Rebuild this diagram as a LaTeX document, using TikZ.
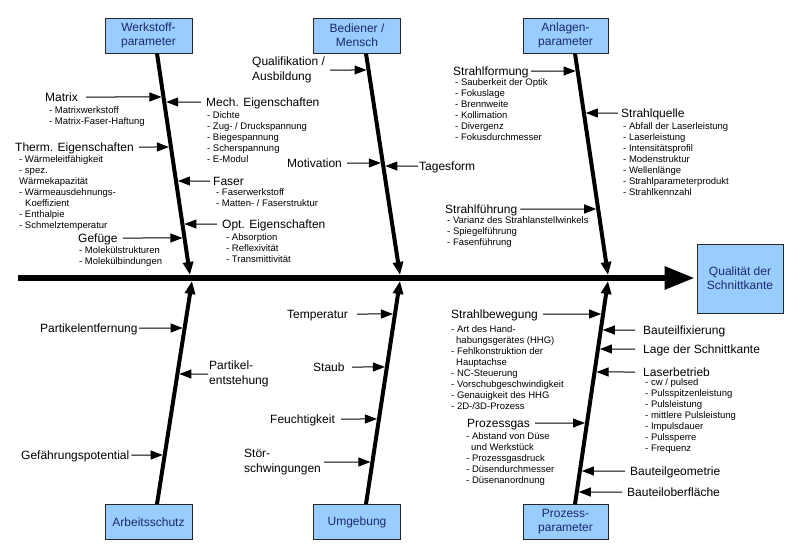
\documentclass[tikz,border=0pt]{standalone}
\usepackage{fontspec}
\setmainfont{Liberation Sans}
\usetikzlibrary{arrows.meta}
\definecolor{boxblue}{HTML}{99CCFF}
\definecolor{boxtext}{HTML}{1E2A66}
\begin{document}
\begin{tikzpicture}[x=1pt,y=-1pt,
  catbox/.style={draw=black!85, line width=0.9pt, fill=boxblue, text=boxtext, minimum width=87pt, minimum height=35pt, align=center, inner sep=1pt, font=\fontsize{12}{14}\selectfont},
  lab/.style={anchor=west, inner sep=0pt, text height=8.6pt, text depth=0pt, font=\fontsize{12}{14}\selectfont},
  labtwo/.style={anchor=west, inner sep=0pt, align=left, font=\fontsize{12}{15}\selectfont},
  sublist/.style={anchor=north west, inner sep=0pt, align=left, font=\fontsize{9.5}{11}\selectfont},
  spine/.style={line width=6pt, -{Triangle[length=30pt,width=22pt]}},
  bone/.style={line width=4pt, -{Triangle[length=13pt,width=10pt]}},
  twig/.style={line width=1pt, -{Triangle[length=12pt,width=9pt]}, shorten >=2pt},
]
\useasboundingbox (0,0) rectangle (800,557);

% category boxes
\node[catbox] (W) at (148.5,35.5) {Werkstoff-\\parameter};
\node[catbox] (B) at (357,35.5) {Bediener /\\Mensch};
\node[catbox, minimum width=85pt] (A) at (565.5,35.5) {Anlagen-\\parameter};
\node[catbox] (S) at (148.5,522) {Arbeitsschutz};
\node[catbox] (U) at (357,522) {Umgebung};
\node[catbox, minimum width=85pt] (P) at (565.5,522) {Prozess-\\parameter};
\node[catbox, minimum width=86pt, minimum height=69pt] (Q) at (740,278.5) {Qualität der\\Schnittkante};

% spine
\coordinate (s0) at (18,278);
\draw[spine] (s0) -- ([xshift=-2pt]s0 -| Q.west);

% bones
\coordinate (w1) at ([xshift=8.5pt]W.south);
\coordinate (w2) at (190,275);
\coordinate (b1) at ([xshift=9pt]B.south);
\coordinate (b2) at (400,275);
\coordinate (a1) at ([xshift=9.5pt]A.south);
\coordinate (a2) at (608,275);
\coordinate (s1) at ([xshift=8.5pt]S.north);
\coordinate (s2) at (192,281);
\coordinate (u1) at ([xshift=9pt]U.north);
\coordinate (u2) at (400,281);
\coordinate (p1) at ([xshift=9.5pt]P.north);
\coordinate (p2) at (608,281);
\draw[bone] (w1) -- (w2);
\draw[bone] (b1) -- (b2);
\draw[bone] (a1) -- (a2);
\draw[bone] (s1) -- (s2);
\draw[bone] (u1) -- (u2);
\draw[bone] (p1) -- (p2);

% Werkstoffparameter
\node[lab] (mat) at (45,97) {Matrix};
\node[sublist] (matL) at (49,106.5) {- Matrixwerkstoff\\- Matrix-Faser-Haftung};
\draw[twig] ([xshift=8pt]mat.east) -- (intersection of w1--w2 and mat.east--mat.west);

\node[lab] (mech) at (206,102) {Mech. Eigenschaften};
\node[sublist] (mechL) at (207,111.5) {- Dichte\\- Zug- / Druckspannung\\- Biegespannung\\- Scherspannung\\- E-Modul};
\draw[twig] ([xshift=-5pt]mech.west) -- (intersection of w1--w2 and mech.east--mech.west);

\node[lab] (therm) at (15,147) {Therm. Eigenschaften};
\node[sublist] (thermL) at (19,155.5) {- Wärmeleitfähigkeit\\- spez.\\Wärmekapazität\\- Wärmeausdehnungs-\\\hspace*{6pt}Koeffizient\\- Enthalpie\\- Schmelztemperatur};
\draw[twig] ([xshift=5pt]therm.east) -- (intersection of w1--w2 and therm.east--therm.west);

\node[lab] (faser) at (213,181) {Faser};
\node[sublist] (faserL) at (216,188.5) {- Faserwerkstoff\\- Matten- / Faserstruktur};
\draw[twig] ([xshift=-3pt]faser.west) -- (intersection of w1--w2 and faser.east--faser.west);

\node[lab] (opt) at (222,224) {Opt. Eigenschaften};
\node[sublist] (optL) at (226,233) {- Absorption\\- Reflexivität\\- Transmittivität};
\draw[twig] ([xshift=-5pt]opt.west) -- (intersection of w1--w2 and opt.east--opt.west);

\node[lab] (gef) at (78,238) {Gefüge};
\node[sublist] (gefL) at (79,246.5) {- Molekülstrukturen\\- Molekülbindungen};
\draw[twig] ([xshift=5pt]gef.east) -- (intersection of w1--w2 and gef.east--gef.west);

% Bediener / Mensch
\node[labtwo] (qual) at (252,70) {Qualifikation /\\Ausbildung};
\draw[twig] ([xshift=5pt]qual.east) -- (intersection of b1--b2 and qual.east--qual.west);
\node[lab] (motiv) at (287,163) {Motivation};
\draw[twig] ([xshift=5pt]motiv.east) -- (intersection of b1--b2 and motiv.east--motiv.west);
\node[lab] (tages) at (419,166) {Tagesform};
\draw[twig] ([xshift=-1pt]tages.west) -- (intersection of b1--b2 and tages.east--tages.west);

% Anlagenparameter
\node[lab] (sform) at (453,71) {Strahlformung};
\node[sublist] (sformL) at (455,78.5) {- Sauberkeit der Optik\\- Fokuslage\\- Brennweite\\- Kollimation\\- Divergenz\\- Fokusdurchmesser};
\draw[twig] ([xshift=2pt]sform.east) -- (intersection of a1--a2 and sform.east--sform.west);

\node[lab] (squel) at (621,113) {Strahlquelle};
\node[sublist] (squelL) at (623,122.5) {- Abfall der Laserleistung\\- Laserleistung\\- Intensitätsprofil\\- Modenstruktur\\- Wellenlänge\\- Strahlparameterprodukt\\- Strahlkennzahl};
\draw[twig] ([xshift=-3pt]squel.west) -- (intersection of a1--a2 and squel.east--squel.west);

\node[lab] (sfuehr) at (445,209) {Strahlführung};
\node[sublist] (sfuehrL) at (447,216.5) {- Varianz des Strahlanstellwinkels\\- Spiegelführung\\- Fasenführung};
\draw[twig] ([xshift=3pt]sfuehr.east) -- (intersection of a1--a2 and sfuehr.east--sfuehr.west);

% Arbeitsschutz
\node[lab] (pentf) at (40,328) {Partikelentfernung};
\draw[twig] ([xshift=1pt]pentf.east) -- (intersection of s1--s2 and pentf.east--pentf.west);
\node[labtwo] (pentst) at (209,374) {Partikel-\\entstehung};
\draw[twig] ([xshift=-1pt]pentst.west) -- (intersection of s1--s2 and pentst.east--pentst.west);
\node[lab] (gefahr) at (21,455) {Gefährungspotential};
\draw[twig] ([xshift=2pt]gefahr.east) -- (intersection of s1--s2 and gefahr.east--gefahr.west);

% Umgebung
\node[lab] (temp) at (287,314) {Temperatur};
\draw[twig] ([xshift=9pt]temp.east) -- (intersection of u1--u2 and temp.east--temp.west);
\node[lab] (staub) at (313,367) {Staub};
\draw[twig] ([xshift=7pt]staub.east) -- (intersection of u1--u2 and staub.east--staub.west);
\node[lab] (feucht) at (270,419) {Feuchtigkeit};
\draw[twig] ([xshift=6pt]feucht.east) -- (intersection of u1--u2 and feucht.east--feucht.west);
\node[labtwo] (stoer) at (244,462) {Stör-\\schwingungen};
\draw[twig] ([xshift=3pt]stoer.east) -- (intersection of u1--u2 and stoer.east--stoer.west);

% Prozessparameter
\node[lab] (sbew) at (451,314) {Strahlbewegung};
\node[sublist] (sbewL) at (451,325.5) {- Art des Hand-\\\hspace*{5pt}habungsgerätes (HHG)\\- Fehlkonstruktion der\\\hspace*{5pt}Hauptachse\\- NC-Steuerung\\- Vorschubgeschwindigkeit\\- Genauigkeit des HHG\\- 2D-/3D-Prozess};
\draw[twig] ([xshift=5pt]sbew.east) -- (intersection of p1--p2 and sbew.east--sbew.west);

\node[lab] (pgas) at (467,423) {Prozessgas};
\node[sublist] (pgasL) at (466,432.5) {- Abstand von Düse\\\hspace*{5pt}und Werkstück\\- Prozessgasdruck\\- Düsendurchmesser\\- Düsenanordnung};
\draw[twig] ([xshift=5pt]pgas.east) -- (intersection of p1--p2 and pgas.east--pgas.west);

\node[lab] (bfix) at (643,330) {Bauteilfixierung};
\draw[twig] ([xshift=-8pt]bfix.west) -- (intersection of p1--p2 and bfix.east--bfix.west);
\node[lab] (lage) at (643,349) {Lage der Schnittkante};
\draw[twig] ([xshift=-8pt]lage.west) -- (intersection of p1--p2 and lage.east--lage.west);
\node[lab] (lbetr) at (643,372) {Laserbetrieb};
\node[sublist] (lbetrL) at (645,378.5) {- cw / pulsed\\- Pulsspitzenleistung\\- Pulsleistung\\- mittlere Pulsleistung\\- Impulsdauer\\- Pulssperre\\- Frequenz};
\draw[twig] ([xshift=-8pt]lbetr.west) -- (intersection of p1--p2 and lbetr.east--lbetr.west);
\node[lab] (bgeo) at (630,471) {Bauteilgeometrie};
\draw[twig] ([xshift=-5pt]bgeo.west) -- (intersection of p1--p2 and bgeo.east--bgeo.west);
\node[lab] (bober) at (627,492) {Bauteiloberfläche};
\draw[twig] ([xshift=-5pt]bober.west) -- (intersection of p1--p2 and bober.east--bober.west);
\end{tikzpicture}
\end{document}
